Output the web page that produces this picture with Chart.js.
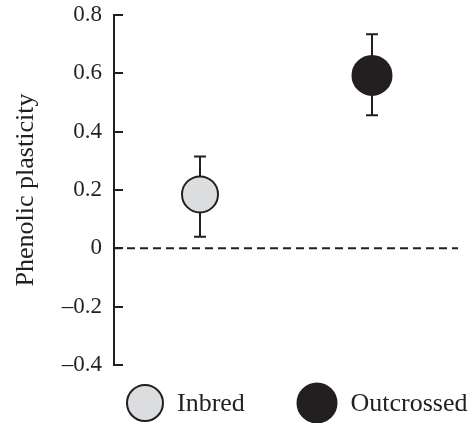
<!DOCTYPE html>
<html>
<head>
<meta charset="utf-8">
<script src="https://cdn.jsdelivr.net/npm/chart.js@4/dist/chart.umd.min.js"></script>
<style>
  html, body { margin: 0; padding: 0; background: #fff; }
  #wrap { width: 473px; height: 423px; position: relative; }
</style>
</head>
<body>
<div id="wrap"><canvas id="c"></canvas></div>
<script>
const groups = ['Inbred', 'Outcrossed'];
const groupX = [1, 3];
const means = [0.185, 0.593];
const lower = [0.04, 0.456];
const upper = [0.315, 0.734];
const yTicks = [-0.4, -0.2, 0, 0.2, 0.4, 0.6, 0.8];
const zeroLine = [{ x: 0, y: 0 }, { x: 4, y: 0 }];

const INK = '#231f20';
const FILLS = ['#dcdddf', '#231f20'];
const RADII = [18, 19.5];
const FONT = "'Liberation Serif', 'Times New Roman', serif";

function fmtTick(v) {
  if (Math.abs(v) < 1e-9) return '0';
  return (v < 0 ? '\u2013' : '') + Math.abs(v).toFixed(1);
}

// error bars under the markers
const errorBars = {
  id: 'errorBars',
  beforeDatasetsDraw(chart) {
    const { ctx, scales: { x, y } } = chart;
    ctx.save();
    ctx.strokeStyle = INK;
    ctx.lineWidth = 2;
    groups.forEach((g, i) => {
      const px = x.getPixelForValue(groupX[i]);
      const lo = y.getPixelForValue(lower[i]);
      const hi = y.getPixelForValue(upper[i]);
      ctx.beginPath();
      ctx.moveTo(px, lo); ctx.lineTo(px, hi);
      ctx.moveTo(px - 6, lo); ctx.lineTo(px + 6, lo);
      ctx.moveTo(px - 6, hi); ctx.lineTo(px + 6, hi);
      ctx.stroke();
    });
    ctx.restore();
  }
};

// tick marks pointing into the plot
const innerTicks = {
  id: 'innerTicks',
  afterDraw(chart) {
    const { ctx, scales: { y } } = chart;
    ctx.save();
    ctx.strokeStyle = INK;
    ctx.lineWidth = 2;
    y.ticks.forEach((t, i) => {
      const py = Math.round(y.getPixelForTick(i));
      ctx.beginPath();
      ctx.moveTo(y.right - 1, py);
      ctx.lineTo(y.right + 9, py);
      ctx.stroke();
    });
    ctx.restore();
  }
};

// legend with big circles
const bigLegend = {
  id: 'bigLegend',
  afterDraw(chart) {
    const { ctx } = chart;
    const spots = [145, 317];
    const cy = 403;
    ctx.save();
    ctx.font = '26px ' + FONT;
    ctx.textBaseline = 'middle';
    groups.forEach((g, i) => {
      const ds = chart.data.datasets[i];
      ctx.beginPath();
      ctx.arc(spots[i], cy, RADII[i], 0, Math.PI * 2);
      ctx.fillStyle = ds.backgroundColor;
      ctx.fill();
      ctx.lineWidth = 2;
      ctx.strokeStyle = INK;
      ctx.stroke();
      ctx.fillStyle = INK;
      ctx.fillText(ds.label, spots[i] + RADII[i] + 14, cy + 1);
    });
    ctx.restore();
  }
};

new Chart(document.getElementById('c'), {
  type: 'scatter',
  data: {
    datasets: [
      ...groups.map((g, i) => ({
        label: g,
        data: [{ x: groupX[i], y: means[i] }],
        backgroundColor: FILLS[i],
        borderColor: INK,
        borderWidth: 2,
        pointRadius: RADII[i],
        pointHoverRadius: RADII[i]
      })),
      {
        type: 'line',
        label: 'zero',
        data: zeroLine,
        borderColor: INK,
        borderWidth: 2,
        borderDash: [8, 5],
        pointRadius: 0,
        order: 5
      }
    ]
  },
  options: {
    responsive: true,
    maintainAspectRatio: false,
    animation: false,
    layout: { autoPadding: false, padding: { top: 15, right: 15, bottom: 58, left: 11 } },
    plugins: { legend: { display: false }, tooltip: { enabled: false } },
    scales: {
      x: { type: 'linear', min: 0, max: 4, display: false },
      y: {
        min: -0.4, max: 0.8,
        afterBuildTicks: (s) => { s.ticks = yTicks.map(v => ({ value: v })); },
        afterFit: (s) => { s.width = 103; s.paddingTop = 0; s.paddingBottom = 0; },
        border: { display: true, color: INK, width: 2 },
        grid: { display: false, drawTicks: false },
        ticks: {
          color: INK, padding: 12,
          font: { family: FONT, size: 23 },
          callback: (v) => fmtTick(v)
        },
        title: {
          display: true, text: 'Phenolic plasticity', color: INK,
          font: { family: FONT, size: 26 }, padding: 0
        }
      }
    }
  },
  plugins: [errorBars, innerTicks, bigLegend]
});
</script>
</body>
</html>
